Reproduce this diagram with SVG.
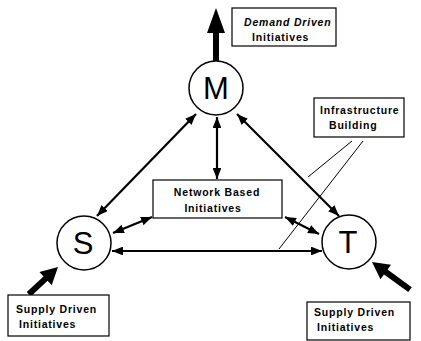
<svg xmlns="http://www.w3.org/2000/svg" width="421" height="341" viewBox="0 0 421 341">
<style>
.box{fill:#fff;stroke:#000;stroke-width:1.2}
.lbl{font-family:"Liberation Sans",Arial,sans-serif;font-size:10.5px;font-weight:bold;letter-spacing:0.8px;fill:#000}
.big{font-family:"Liberation Sans",Arial,sans-serif;font-size:31px;fill:#000;text-anchor:middle}
.node{fill:#fff;stroke:#000;stroke-width:1.5}
.con{stroke:#000;stroke-width:2.2;fill:none}
.thin{stroke:#000;stroke-width:1;fill:none}
.thick{fill:#000;stroke:none}
</style>
<defs>
<marker id="ah" viewBox="0 0 10 8" refX="10" refY="4" markerWidth="5" markerHeight="4" orient="auto-start-reverse" markerUnits="strokeWidth">
<path d="M0,0 L10,4 L0,8 Z" fill="#000"/>
</marker>
</defs>
<g id="connectors">
<line class="con" x1="97" y1="216" x2="196" y2="114" marker-start="url(#ah)" marker-end="url(#ah)"/>
<line class="con" x1="237" y1="114" x2="339" y2="216" marker-start="url(#ah)" marker-end="url(#ah)"/>
<line class="con" x1="217" y1="117" x2="217" y2="179" marker-start="url(#ah)" marker-end="url(#ah)"/>
<line class="con" x1="113" y1="233" x2="152" y2="217" marker-start="url(#ah)" marker-end="url(#ah)"/>
<line class="con" x1="285" y1="217" x2="319" y2="234" marker-start="url(#ah)" marker-end="url(#ah)"/>
<line class="con" x1="112" y1="251" x2="322" y2="251" marker-start="url(#ah)" marker-end="url(#ah)"/>
<line class="thin" x1="352" y1="141" x2="308" y2="177"/>
<line class="thin" x1="363" y1="141" x2="279" y2="249"/>
<path class="thick" d="M213,61 L213,33 L207,33 L216,8 L225,33 L219,33 L219,61 Z"/>
<path class="thick" transform="translate(58,267) rotate(137)" d="M0,0 L17,-9 L17,-3 L40,-3 L40,3 L17,3 L17,9 Z"/>
<path class="thick" transform="translate(372,262) rotate(36)" d="M0,0 L17,-9 L17,-3 L47,-3 L47,3 L17,3 L17,9 Z"/>
</g>
<g id="M">
<circle class="node" cx="216" cy="88" r="27"/>
<text class="big" x="216" y="99">M</text>
</g>
<g id="S">
<circle class="node" cx="84" cy="243" r="27"/>
<text class="big" x="83" y="254">S</text>
</g>
<g id="T">
<circle class="node" cx="349" cy="242" r="27"/>
<text class="big" x="348" y="253">T</text>
</g>
<g id="demand">
<rect class="box" x="232" y="8" width="104" height="38"/>
<text class="lbl" x="244" y="26" font-style="italic">Demand Driven</text>
<text class="lbl" x="252" y="41">Initiatives</text>
</g>
<g id="infrastructure">
<rect class="box" x="314" y="98" width="90" height="39"/>
<text class="lbl" x="320" y="114">Infrastructure</text>
<text class="lbl" x="329" y="129">Building</text>
</g>
<g id="network">
<rect class="box" x="153" y="180" width="129" height="38"/>
<text class="lbl" x="217" y="196" text-anchor="middle">Network Based</text>
<text class="lbl" x="213" y="212" text-anchor="middle">Initiatives</text>
</g>
<g id="supplyS">
<rect class="box" x="8" y="295" width="101" height="41"/>
<text class="lbl" x="16" y="313">Supply Driven</text>
<text class="lbl" x="19" y="328">Initiatives</text>
</g>
<g id="supplyT">
<rect class="box" x="307" y="302" width="103" height="38"/>
<text class="lbl" x="314" y="316">Supply Driven</text>
<text class="lbl" x="317" y="331">Initiatives</text>
</g>
</svg>
